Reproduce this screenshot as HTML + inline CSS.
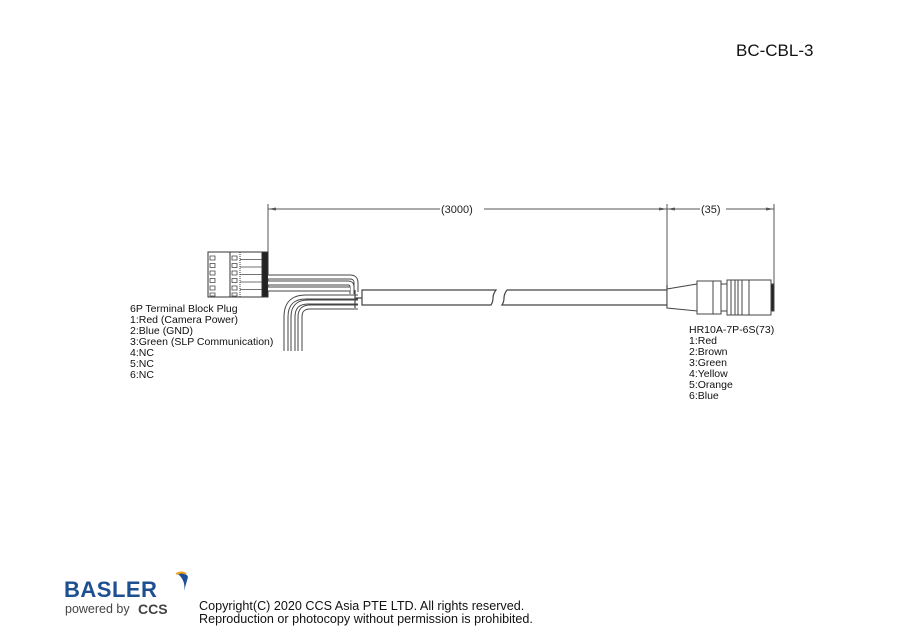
<!DOCTYPE html>
<html><head><meta charset="utf-8"><style>
body{margin:0;background:#fff;width:900px;height:636px;overflow:hidden;font-family:"Liberation Sans",sans-serif}
</style></head><body>
<svg width="900" height="636" xmlns="http://www.w3.org/2000/svg" font-family="Liberation Sans, sans-serif">
<text x="736" y="56" font-size="17" fill="#111">BC-CBL-3</text>
<g stroke="#555" stroke-width="1" fill="none">
<line x1="268" y1="204" x2="268" y2="252"/>
<line x1="667" y1="204" x2="667" y2="290"/>
<line x1="774" y1="204" x2="774" y2="290"/>
<line x1="268" y1="209" x2="667" y2="209"/>
<line x1="667" y1="209" x2="774" y2="209"/>
</g>
<g fill="#555">
<polygon points="268,209 276,207.5 276,210.5"/><polygon points="667,209 659,207.5 659,210.5"/>
<polygon points="667,209 675,207.5 675,210.5"/><polygon points="774,209 766,207.5 766,210.5"/>
</g>
<rect x="440" y="200" width="44" height="14" fill="#fff"/>
<text x="441" y="213" font-size="11" fill="#222">(3000)</text>
<rect x="700" y="200" width="26" height="14" fill="#fff"/>
<text x="701" y="213" font-size="11" fill="#222">(35)</text>
<!-- terminal block -->
<g stroke="#333" stroke-width="1" fill="#fff">
<rect x="208" y="252" width="60" height="45"/>
<line x1="230" y1="252" x2="230" y2="297"/>
<line x1="240" y1="252" x2="240" y2="297" stroke-dasharray="1,1"/>
<rect x="262" y="252" width="6" height="45" fill="#222"/>
</g>
<g stroke="#444" stroke-width="0.8" fill="none">
<path d="M210 256h5v4h-5zM210 263.5h5v4h-5zM210 271h5v4h-5zM210 278.5h5v4h-5zM210 286h5v4h-5zM210 293h5v3h-5z"/>
<path d="M232 256h5v4h-5zM232 263.5h5v4h-5zM232 271h5v4h-5zM232 278.5h5v4h-5zM232 286h5v4h-5zM232 293h5v3h-5z"/>
<path d="M240 259.5h22M240 267h22M240 274.5h22M240 282h22M240 289.5h22"/>
</g>
<!-- wires (double-outline) -->
<g fill="none" stroke-linecap="butt">
<g stroke="#444" stroke-width="5">
<path d="M268 277H350Q356 277 356 283V292"/>
<path d="M268 283H348Q352 283 352 287V294"/>
<path d="M268 289H350"/>
<path d="M358 297H306Q286 297 286 317V351"/>
<path d="M358 302H308Q293 302 293 317V351"/>
<path d="M358 307H310Q300 307 300 317V351"/>
</g>
<g stroke="#fff" stroke-width="3">
<path d="M268 277H350Q356 277 356 283V292"/>
<path d="M268 283H348Q352 283 352 287V294"/>
<path d="M268 289H350"/>
<path d="M358 297H306Q286 297 286 317V351"/>
<path d="M358 302H308Q293 302 293 317V351"/>
<path d="M358 307H310Q300 307 300 317V351"/>
</g>
</g>
<!-- cable -->
<g stroke="#444" stroke-width="1.2" fill="none">
<path d="M355 290v18M355 298h7"/>
<path d="M362 290h134q-3 4 -3 8t-2 7h-129z"/>
<path d="M667 290h-160q-3 4 -3 8t-2 7h165"/>
<path d="M667 285v23"/>
</g>
<!-- connector -->
<g stroke="#444" stroke-width="1" fill="#fff">
<path d="M667 289L697 284V311L667 308Z"/>
<rect x="697" y="281" width="24" height="33"/>
<line x1="713" y1="281" x2="713" y2="314"/>
<rect x="721" y="284" width="6" height="27"/>
<rect x="727" y="280" width="15" height="35"/>
<line x1="731" y1="280" x2="731" y2="315"/><line x1="735" y1="280" x2="735" y2="315"/><line x1="738" y1="280" x2="738" y2="315"/>
<rect x="742" y="280" width="29" height="35"/>
<line x1="749" y1="280" x2="749" y2="315"/>
<rect x="771" y="284" width="3" height="27" fill="#222"/>
</g>
<g font-size="10.5" fill="#111">
<text x="130" y="312">6P Terminal Block Plug</text>
<text x="130" y="323">1:Red (Camera Power)</text>
<text x="130" y="334">2:Blue (GND)</text>
<text x="130" y="345">3:Green (SLP Communication)</text>
<text x="130" y="356">4:NC</text>
<text x="130" y="367">5:NC</text>
<text x="130" y="378">6:NC</text>
<text x="689" y="333">HR10A-7P-6S(73)</text>
<text x="689" y="344">1:Red</text>
<text x="689" y="355">2:Brown</text>
<text x="689" y="366">3:Green</text>
<text x="689" y="377">4:Yellow</text>
<text x="689" y="388">5:Orange</text>
<text x="689" y="399">6:Blue</text>
</g>
<!-- logo -->
<text x="64" y="597" font-size="22" font-weight="bold" fill="#1d4f91" letter-spacing="0.5">BASLER</text>
<path d="M178 574q8-2 10 3l-4 14q2-10-6-17z" fill="#1d4f91"/>
<path d="M176 574q6-3 10 0" stroke="#f0a020" stroke-width="2" fill="none"/>
<text x="65" y="613" font-size="12.5" fill="#444">powered by</text>
<text x="138" y="614" font-size="14" font-weight="bold" fill="#444">CCS</text>
<g font-size="12.6" fill="#111">
<text x="199" y="610">Copyright(C) 2020 CCS Asia PTE LTD. All rights reserved.</text>
<text x="199" y="623">Reproduction or photocopy without permission is prohibited.</text>
</g>
</svg>
</body></html>
